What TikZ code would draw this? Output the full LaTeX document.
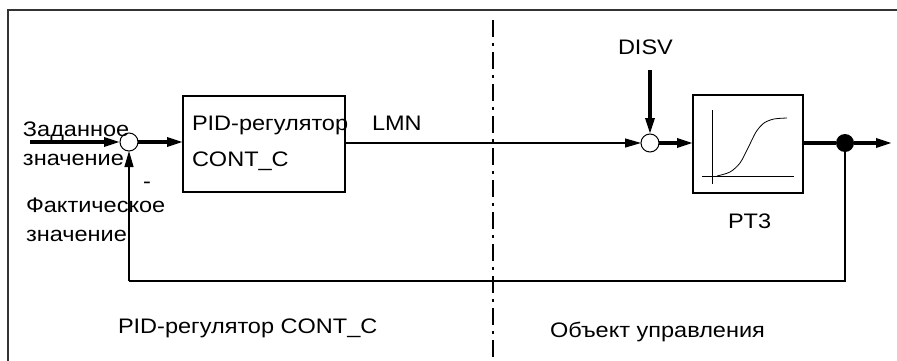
\documentclass[tikz,border=0pt]{standalone}
\usepackage{fontspec}
\setmainfont{Liberation Sans}[FakeStretch=1.12]
\usepackage{tikz}
\usetikzlibrary{arrows.meta}

\tikzset{
    thin line/.style={line width=1.2pt},
    thick line/.style={line width=3.2pt},
    head/.style={-{Triangle[length=16pt,width=9pt]}},
    txt/.style={anchor=base west, inner sep=0pt, font=\fontsize{21}{24}\selectfont},
    sumpoint/.style={draw, circle, line width=1pt, minimum size=18pt, inner sep=0pt, fill=white},
    block/.style={draw, line width=1.5pt, inner sep=0pt, anchor=north west},
}

\begin{document}
\begin{tikzpicture}[x=1pt,y=-1pt,inner sep=0pt,outer sep=0pt]
    \useasboundingbox (0,0) rectangle (897,361);
    % frame and separator
    \draw[line width=1.5pt, black!80] (8,361) -- (8,10) -- (897,10);
    \draw[line width=1.2pt, dash pattern=on 17pt off 6pt on 3pt off 6pt] (493,20) -- (493,361);
    % 
    \node[block, minimum width=162pt, minimum height=96pt] (pid) at (183,96) {};
    \node[block, minimum width=110pt, minimum height=98pt] (pt3) at (693,95) {};
    \node[sumpoint] (sum1) at (129,142) {};
    \node[sumpoint] (sum2) at (650,143) {};
    \node[circle, fill, minimum size=18pt] (branch) at (845,143) {};
    \coordinate (setp) at (30,142);
    \coordinate (disv) at (650,70);
    \coordinate (out) at (892,143);
    \coordinate (fb_r) at (845,281);
    \coordinate (fb_l) at (129,281);
    % signal lines
    \draw[thick line, head] (setp) -- (sum1.west);
    \draw[thick line, head] (sum1.east) -- (sum1.east -| pid.west);
    \draw[thin line, head] (sum2.west -| pid.east) -- (sum2.west);
    \draw[thick line, head] (disv) -- (sum2.north);
    \draw[thick line, head] (sum2.east) -- (sum2.east -| pt3.west);
    \draw[thick line] (branch -| pt3.east) -- (branch);
    \draw[thick line, head] (branch) -- (out);
    \draw[thin line] (branch) -- (fb_r) -- (fb_l);
    \draw[thin line, head] (fb_l) -- (sum1.south);
    % step response
    \draw[line width=0.8pt] (712,110) -- (712,184);
    \draw[line width=0.8pt] (702,176) -- (794,176);
    \draw[line width=0.8pt] plot[smooth] coordinates {(717,176) (730,172) (740,163) (748,148) (756,132) (764,123) (774,119) (787,118)};
    % labels
    \node[txt] (setp1) at (23,136) {Заданное};
    \node[txt] (setp2) at (23,165) {значение};
    \node[txt] (act1) at (26,212) {Фактическое};
    \node[txt] (act2) at (26,241) {значение};
    \node[txt] (minus) at (143,188) {-};
    \node[txt] (pid1) at (192,130) {PID-регулятор};
    \node[txt] (pid2) at (192,166) {CONT\_C};
    \node[txt] (lmn) at (372,130) {LMN};
    \node[txt] (disvl) at (618,55) {DISV};
    \node[txt] (pt3l) at (728,228) {PT3};
    \node[txt] (ctrl) at (118,333) {PID-регулятор CONT\_C};
    \node[txt] (plant) at (550,337) {Объект управления};
\end{tikzpicture}
\end{document}
